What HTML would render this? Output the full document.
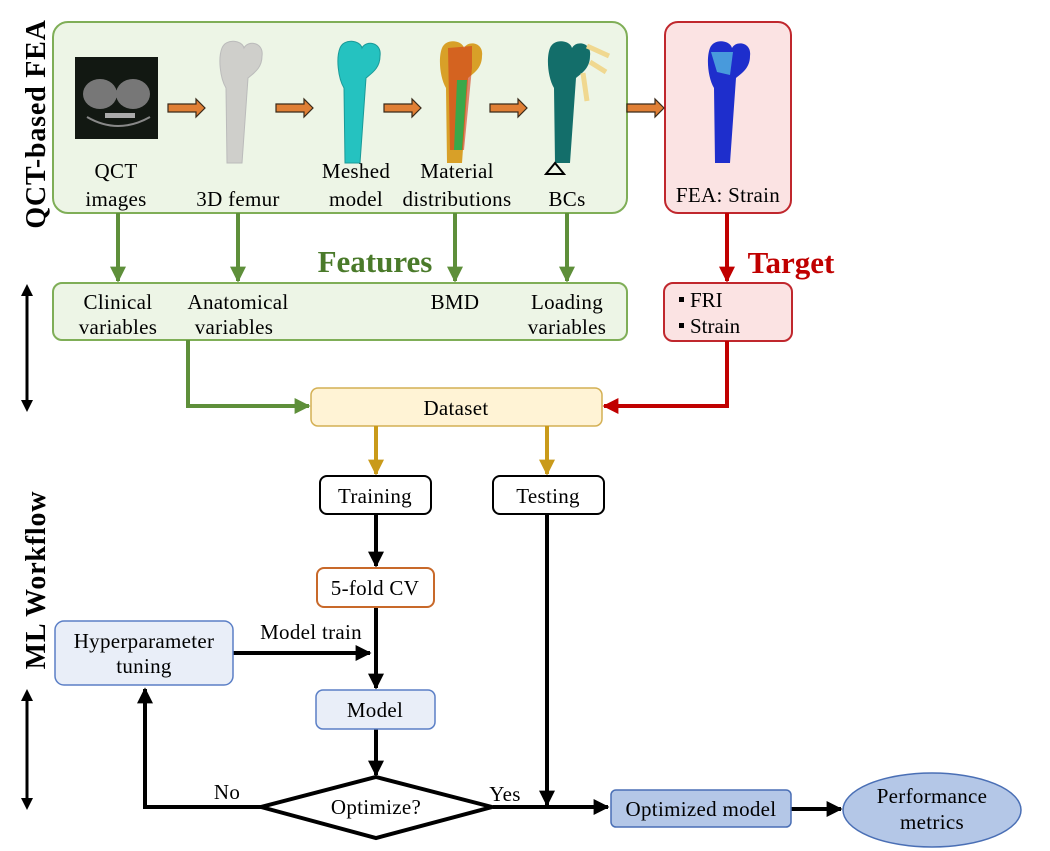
<!DOCTYPE html>
<html><head><meta charset="utf-8"><style>
body{margin:0;background:#fff}
svg{display:block}
text{font-family:"Liberation Serif",serif}
</style></head><body>
<svg width="1050" height="851" viewBox="0 0 1050 851">
<defs>
<marker id="ag" viewBox="0 0 10 10" refX="9" refY="5" markerWidth="4" markerHeight="4" orient="auto"><path d="M0,0L10,5L0,10z" fill="#5e8f3a"/></marker>
<marker id="ar" viewBox="0 0 10 10" refX="9" refY="5" markerWidth="4" markerHeight="4" orient="auto"><path d="M0,0L10,5L0,10z" fill="#c00000"/></marker>
<marker id="ay" viewBox="0 0 10 10" refX="9" refY="5" markerWidth="4" markerHeight="4" orient="auto"><path d="M0,0L10,5L0,10z" fill="#c99a1a"/></marker>
<marker id="ak" viewBox="0 0 10 10" refX="9" refY="5" markerWidth="4" markerHeight="4" orient="auto"><path d="M0,0L10,5L0,10z" fill="#000"/></marker>
<g id="orr"><path d="M0,-4H28V-9L37,0L28,9V4H0z" fill="#e07f35" stroke="#3a2a1a" stroke-width="1.2"/></g>
<path id="fem" d="M10,10 C14,0 30,2 32,10 C36,2 52,4 50,18 C50,30 42,35 36,40 L30,125 L15,125 L14,50 C8,40 6,20 10,10 Z"/>
</defs>

<text transform="translate(45,124) rotate(-90)" text-anchor="middle" font-size="28" font-weight="bold" letter-spacing="0.8">QCT-based FEA</text>
<text transform="translate(45,580) rotate(-90)" text-anchor="middle" font-size="28" font-weight="bold" letter-spacing="0.8">ML Workflow</text>
<line x1="27" y1="292" x2="27" y2="405" stroke="#000" stroke-width="3"/>
<path d="M27,284L21,296H33z M27,412L21,400H33z" fill="#000"/>
<line x1="27" y1="697" x2="27" y2="802" stroke="#000" stroke-width="3"/>
<path d="M27,689L21,701H33z M27,810L21,798H33z" fill="#000"/>

<rect x="53" y="22" width="574" height="191" rx="15" fill="#edf5e6" stroke="#7fae57" stroke-width="2"/>
<rect x="665" y="22" width="126" height="191" rx="13" fill="#fbe3e3" stroke="#c0272d" stroke-width="2"/>

<rect x="75" y="57" width="83" height="82" fill="#121812"/>
<ellipse cx="100" cy="94" rx="17" ry="15" fill="#777"/>
<ellipse cx="133" cy="94" rx="17" ry="15" fill="#777"/>
<rect x="105" y="113" width="30" height="5" fill="#aaa"/>
<path d="M87,117 Q118,135 150,117" stroke="#888" fill="none" stroke-width="2"/>
<use href="#fem" transform="translate(212,38)" fill="#cfcfcb" stroke="#bbb"/>
<use href="#fem" transform="translate(330,38)" fill="#25c2c0" stroke="#1a9a98"/>
<use href="#fem" transform="translate(432,38)" fill="#d8a028"/>
<path d="M448,48 L472,46 L472,68 L464,150 L450,150 Z" fill="#d23a1a" opacity="0.6"/>
<path d="M457,80 L467,80 L462,150 L454,150Z" fill="#3aa84a"/>
<use href="#fem" transform="translate(540,38)" fill="#136e6a"/>
<path d="M587,46l22,10 M590,62l16,10 M583,73l4,28" stroke="#f0d890" stroke-width="5"/>
<path d="M555,163l-9,11h18z" fill="none" stroke="#000" stroke-width="2"/>
<use href="#fem" transform="translate(700,38)" fill="#1e2ecc"/>
<path d="M711,52 L733,52 L730,75 L717,72Z" fill="#53b5e0" opacity="0.8"/>

<use href="#orr" transform="translate(168,108)"/>
<use href="#orr" transform="translate(276,108)"/>
<use href="#orr" transform="translate(384,108)"/>
<use href="#orr" transform="translate(490,108)"/>
<use href="#orr" transform="translate(627,108)"/>

<g font-size="21" text-anchor="middle" letter-spacing="0.3">
<text x="116" y="178">QCT</text><text x="116" y="206">images</text>
<text x="238" y="206">3D femur</text>
<text x="356" y="178">Meshed</text><text x="356" y="206">model</text>
<text x="457" y="178">Material</text><text x="457" y="206">distributions</text>
<text x="567" y="206">BCs</text>
<text x="728" y="202">FEA: Strain</text>
</g>

<g stroke="#5e8f3a" stroke-width="4" marker-end="url(#ag)">
<line x1="118" y1="213" x2="118" y2="281"/><line x1="238" y1="213" x2="238" y2="281"/>
<line x1="455" y1="213" x2="455" y2="281"/><line x1="567" y1="213" x2="567" y2="281"/>
</g>
<line x1="727" y1="213" x2="727" y2="281" stroke="#c00000" stroke-width="4" marker-end="url(#ar)"/>
<text x="375" y="272" font-size="31" font-weight="bold" fill="#4a7a2a" text-anchor="middle">Features</text>
<text x="791" y="273" font-size="31" font-weight="bold" fill="#c00000" text-anchor="middle">Target</text>

<rect x="53" y="283" width="574" height="57" rx="9" fill="#edf5e6" stroke="#7fae57" stroke-width="2"/>
<rect x="664" y="283" width="128" height="58" rx="9" fill="#fbe3e3" stroke="#c0272d" stroke-width="2"/>
<g font-size="21" text-anchor="middle" letter-spacing="0.3">
<text x="118" y="309">Clinical</text><text x="118" y="334">variables</text>
<text x="238" y="309">Anatomical</text><text x="234" y="334">variables</text>
<text x="455" y="309">BMD</text>
<text x="567" y="309">Loading</text><text x="567" y="334">variables</text>
</g>
<rect x="679" y="297" width="5" height="5" fill="#000"/><text x="690" y="307" font-size="21">FRI</text>
<rect x="679" y="323" width="5" height="5" fill="#000"/><text x="690" y="333" font-size="21">Strain</text>

<polyline points="188,340 188,406 309,406" fill="none" stroke="#5e8f3a" stroke-width="4" marker-end="url(#ag)"/>
<polyline points="727,341 727,406 604,406" fill="none" stroke="#c00000" stroke-width="4" marker-end="url(#ar)"/>
<rect x="311" y="388" width="291" height="38" rx="7" fill="#fff3d5" stroke="#d4b054" stroke-width="1.5"/>
<line x1="376" y1="426" x2="376" y2="474" stroke="#c99a1a" stroke-width="4" marker-end="url(#ay)"/>
<line x1="547" y1="426" x2="547" y2="474" stroke="#c99a1a" stroke-width="4" marker-end="url(#ay)"/>

<rect x="320" y="476" width="111" height="38" rx="7" fill="#fff" stroke="#000" stroke-width="2"/>
<rect x="493" y="476" width="111" height="38" rx="7" fill="#fff" stroke="#000" stroke-width="2"/>

<g stroke="#000" stroke-width="4" fill="none" marker-end="url(#ak)">
<line x1="376" y1="514" x2="376" y2="566"/>
<line x1="376" y1="607" x2="376" y2="688"/>
<line x1="233" y1="653" x2="370" y2="653"/>
<line x1="376" y1="729" x2="376" y2="775"/>
<polyline points="262,807 145,807 145,689"/>
<line x1="493" y1="807" x2="608" y2="807"/>
<line x1="547" y1="514" x2="547" y2="805"/>
<line x1="791" y1="809" x2="841" y2="809"/>
</g>

<rect x="317" y="568" width="117" height="39" rx="7" fill="#fff" stroke="#c8692a" stroke-width="2"/>
<rect x="55" y="621" width="178" height="64" rx="9" fill="#e9eef8" stroke="#5b7fc6" stroke-width="1.5"/>
<rect x="316" y="690" width="119" height="39" rx="7" fill="#e9eef8" stroke="#5b7fc6" stroke-width="1.5"/>
<path d="M376,777L492,807L376,838L261,807Z" fill="#fff" stroke="#000" stroke-width="4"/>
<rect x="611" y="790" width="180" height="37" rx="5" fill="#b4c7e7" stroke="#4a6fb5" stroke-width="1.5"/>
<ellipse cx="932" cy="810" rx="89" ry="37" fill="#b4c7e7" stroke="#4a6fb5" stroke-width="1.5"/>

<g font-size="21" text-anchor="middle" letter-spacing="0.3">
<text x="456" y="415">Dataset</text>
<text x="375" y="503">Training</text>
<text x="548" y="503">Testing</text>
<text x="375" y="595">5-fold CV</text>
<text x="144" y="648">Hyperparameter</text>
<text x="144" y="673">tuning</text>
<text x="311" y="639">Model train</text>
<text x="375" y="717">Model</text>
<text x="376" y="814">Optimize?</text>
<text x="227" y="799">No</text>
<text x="505" y="801">Yes</text>
<text x="701" y="816">Optimized model</text>
<text x="932" y="803">Performance</text>
<text x="932" y="829">metrics</text>
</g>
</svg>
</body></html>
